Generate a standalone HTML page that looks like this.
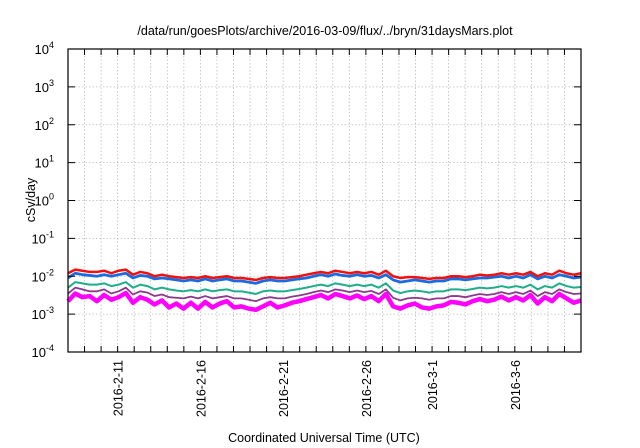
<!DOCTYPE html>
<html><head><meta charset="utf-8"><style>
body{margin:0;background:#fff;}
svg{display:block;font-family:"Liberation Sans",sans-serif;}
</style></head><body>
<svg id="chart" width="640" height="448" viewBox="0 0 640 448">
<text x="325" y="35" font-size="12.5" text-anchor="middle">/data/run/goesPlots/archive/2016-03-09/flux/../bryn/31daysMars.plot</text>
<text transform="translate(35,200) rotate(-90)" font-size="12.5" text-anchor="middle">cSv/day</text>
<text x="324" y="442" font-size="12.5" text-anchor="middle">Coordinated Universal Time (UTC)</text>
<g id="grid"></g><g id="series"></g><g id="axes"></g>
</svg>
<script>
const yExps=[-4,-3,-2,-1,0,1,2,3,4];
const dateLabels=["2016-2-11","2016-2-16","2016-2-21","2016-2-26","2016-3-1","2016-3-6"];
const dateLabelDays=[3,8,13,18,22,27];
const totalDays=31;
// values in units of 1e-3
const red=[12,15,14,13,13,14,12,14,15,11,13,12,10,11,10,9.5,9,9.5,9,10,9,9.5,10,9,9,8.5,8,9,9.5,9,9,9.5,10,11,12,13,12,14,13,12,13,12,13,11,14,10,9,9.5,9.5,9,8.5,9,9,10,10,9.5,10,11,10.5,11,12,11,12,11,13,10,12,11,14,12,11,12];
const blue=[9,12,11,10.5,10,11,10,11,12,9,10.5,10,8.5,9,8.5,8,7.5,8,7.5,8.5,7.5,8,8.5,7.5,7.5,7,6.5,7.5,8,7.5,7.5,8,8.5,9,10,11,10,11.5,10.5,10,11,10,10.5,9,11,8,7,7.5,8,7.5,7,7.5,7.5,8.5,8.5,8,8.5,9,9,9.5,10,9,10,9,11,8.5,10,9,11,10,9,9.5];
const teal=[5,7,6.5,6,6,6.5,5.5,6,7,5,6,5.5,4.5,5,4.5,4.2,4,4.3,4,4.5,4,4.3,4.5,4,4,3.7,3.4,4,4.2,4,4,4.3,4.6,5,5.5,6,5.5,6.5,6,5.5,6,5.5,6,5,6.5,4.2,3.6,4,4.2,4,3.7,4,4,4.5,4.5,4.3,4.6,5,4.8,5,5.5,5,5.5,5,6,4.5,5.5,5,6.5,5.5,5,5.2];
const purple=[3.5,5,4.5,4,4,4.5,3.5,4,5,3.3,4,3.7,3,3.3,2.8,2.7,2.6,2.9,2.6,3,2.6,2.8,3,2.6,2.6,2.4,2.2,2.6,2.8,2.6,2.6,2.9,3.1,3.4,3.8,4.2,3.8,4.5,4.2,3.8,4.2,3.8,4.1,3.4,4.5,2.7,2.3,2.6,2.7,2.6,2.4,2.6,2.6,3,3,2.8,3.1,3.4,3.2,3.4,3.8,3.4,3.8,3.4,4.2,3,3.8,3.4,4.5,3.8,3.4,3.5];
const magenta=[2.2,3.5,2.8,3,2.2,3.2,2.4,2.8,3.6,2,2.8,2.4,1.8,2.3,1.5,1.9,1.4,2,1.4,2.1,1.5,1.9,2.2,1.5,1.6,1.4,1.3,1.6,2,1.5,1.7,2,2.2,2.5,2.8,3.2,2.6,3.4,3,2.6,3.1,2.5,3,2.2,3.4,1.6,1.4,1.7,1.9,1.5,1.4,1.6,1.7,2.1,2,1.8,2.2,2.5,2.2,2.4,2.9,2.3,2.8,2.3,3.2,1.9,2.8,2.2,3.4,2.6,2,2.3];
const seriesList=[[magenta,"#ff00ff",4.5,"magenta"],[purple,"#8b3a8b",1.8,"purple"],[teal,"#1fae8a",2,"teal"],[blue,"#1a6be0",2.8,"blue"],[red,"#f01010",2.5,"red"]];
const L=68,R=581,T=49,B=352;
const ns="http://www.w3.org/2000/svg";
function xs(d){return L+(R-L)*d/totalDays;}
function ys(v){return B-(Math.log10(v)+4)*(B-T)/8;}
function mk(tag,attrs,parent){const e=document.createElementNS(ns,tag);for(const k in attrs)e.setAttribute(k,attrs[k]);parent.appendChild(e);return e;}
const grid=document.getElementById('grid'),axes=document.getElementById('axes'),ser=document.getElementById('series');
for(let d=1;d<totalDays;d++){
  const l=mk('line',{x1:xs(d),x2:xs(d),y1:T,y2:B,stroke:'#bbb','stroke-dasharray':'1.5,2','stroke-width':0.8},grid);
  
  
  mk('line',{x1:xs(d),x2:xs(d),y1:B,y2:B-6,stroke:'#000','stroke-width':1},axes);
  mk('line',{x1:xs(d),x2:xs(d),y1:T,y2:T+6,stroke:'#000','stroke-width':1},axes);
}
yExps.forEach(e=>{
  const y=ys(Math.pow(10,e));
  if(e>-4&&e<4){const g=mk('line',{x1:L,x2:R,y1:y,y2:y,stroke:'#bbb','stroke-dasharray':'1.5,2','stroke-width':0.8},grid);
  
  }
  mk('line',{x1:L,x2:L+7,y1:y,y2:y,stroke:'#000'},axes);
  mk('line',{x1:R,x2:R-7,y1:y,y2:y,stroke:'#000'},axes);
  const t=mk('text',{x:54,y:y+5,'font-size':13,'text-anchor':'end'},axes);
  
  
  t.textContent='10';
  const s=mk('tspan',{dy:-6,'font-size':9},t);s.textContent=String(e);
});
dateLabels.forEach((lab,i)=>{
  const x=xs(dateLabelDays[i]);
  const t=mk('text',{transform:`translate(${x+5},${B+8}) rotate(-90)`,'font-size':12.5,'text-anchor':'end'},axes);
  
  
  t.textContent=lab;
});
seriesList.forEach(([arr,col,w,nm])=>{
  const pts=arr.map((v,i)=>xs(i*totalDays/(arr.length-1))+','+ys(v*1e-3)).join(' ');
  const p=mk('polyline',{points:pts,fill:'none',stroke:col,'stroke-width':w,'stroke-linejoin':'round'},ser);
  
  
});
const f=mk('rect',{x:L,y:T,width:R-L,height:B-T,fill:'none',stroke:'#000','stroke-width':1.2},axes);


</script>
</body></html>
